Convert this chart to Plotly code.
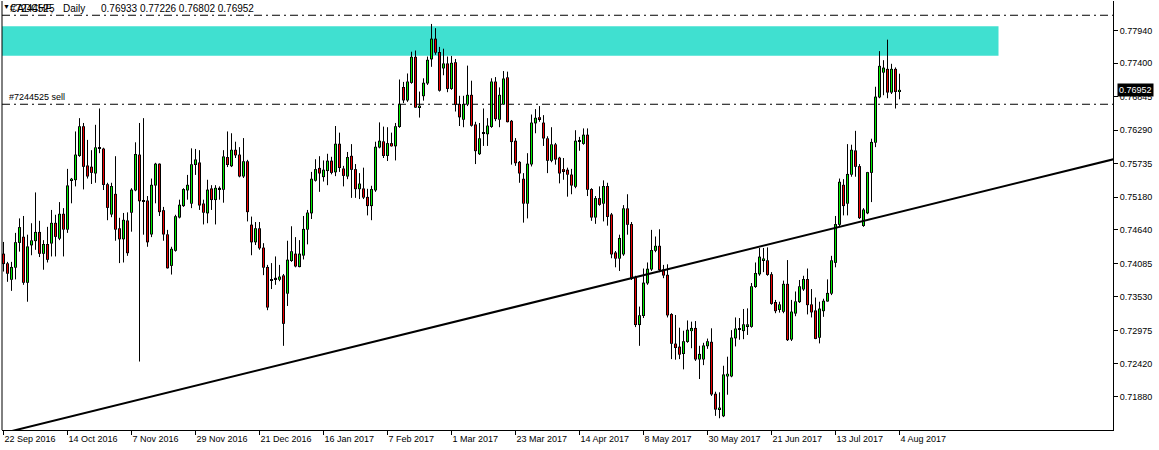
import pandas as pd
import plotly.graph_objects as go

# ---------------- data (CADCHF, Daily) ----------------
opens = [0.7424, 0.7408, 0.7382, 0.7402, 0.7443, 0.7452, 0.7377, 0.7439, 0.7446, 0.7460,
         0.7425, 0.7440, 0.7442, 0.7475, 0.7450, 0.7490, 0.7465, 0.7546, 0.7547, 0.7587,
         0.7635, 0.7570, 0.7568, 0.7558, 0.7600, 0.7598, 0.7539, 0.7490, 0.7523, 0.7466,
         0.7449, 0.7479, 0.7493, 0.7530, 0.7588, 0.7512, 0.7512, 0.7457, 0.7538, 0.7573,
         0.7496, 0.7456, 0.7405, 0.7430, 0.7485, 0.7504, 0.7530, 0.7508, 0.7572, 0.7575,
         0.7507, 0.7492, 0.7532, 0.7514, 0.7533, 0.7531, 0.7584, 0.7570, 0.7596, 0.7588,
         0.7553, 0.7577, 0.7472, 0.7444, 0.7466, 0.7434, 0.7402, 0.7382, 0.7384, 0.7382,
         0.7388, 0.7359, 0.7413, 0.7424, 0.7403, 0.7422, 0.7465, 0.7492, 0.7546, 0.7566,
         0.7552, 0.7562, 0.7578, 0.7560, 0.7606, 0.7565, 0.7553, 0.7586, 0.7564, 0.7532,
         0.7532, 0.7518, 0.7504, 0.7530, 0.7601, 0.7610, 0.7587, 0.7607, 0.7603, 0.7635,
         0.7700, 0.7679, 0.7708, 0.7750, 0.7667, 0.7686, 0.7707, 0.7747, 0.7780, 0.7758,
         0.7732, 0.7739, 0.7698, 0.7741, 0.7672, 0.7647, 0.7672, 0.7687, 0.7638, 0.7590,
         0.7624, 0.7623, 0.7635, 0.7709, 0.7647, 0.7672, 0.7716, 0.7644, 0.7611, 0.7576,
         0.7548, 0.7508, 0.7573, 0.7641, 0.7650, 0.7641, 0.7615, 0.7579, 0.7605, 0.7583,
         0.7564, 0.7563, 0.7555, 0.7536, 0.7611, 0.7607, 0.7621, 0.7531, 0.7485, 0.7516,
         0.7508, 0.7536, 0.7489, 0.7426, 0.7417, 0.7424, 0.7499, 0.7473, 0.7385, 0.7307,
         0.7322, 0.7376, 0.7399, 0.7430, 0.7437, 0.7398, 0.7389, 0.7324, 0.7275, 0.7270,
         0.7259, 0.7279, 0.7297, 0.7301, 0.7250, 0.7250, 0.7272, 0.7278, 0.7192, 0.7167,
         0.7156, 0.7222, 0.7222, 0.7285, 0.7300, 0.7297, 0.7305, 0.7304, 0.7370, 0.7391,
         0.7414, 0.7413, 0.7390, 0.7344, 0.7332, 0.7329, 0.7374, 0.7283, 0.7326, 0.7345,
         0.7366, 0.7382, 0.7340, 0.7330, 0.7286, 0.7330, 0.7346, 0.7359, 0.7410, 0.7473,
         0.7538, 0.7508, 0.7556, 0.7595, 0.7569, 0.7471, 0.7492, 0.7559, 0.7609, 0.7684,
         0.7725, 0.7730, 0.7692, 0.7730, 0.76933]
highs = [0.7444, 0.7411, 0.7411, 0.7459, 0.7483, 0.7487, 0.7456, 0.7475, 0.7526, 0.7479,
         0.7447, 0.7469, 0.7497, 0.7489, 0.7510, 0.7500, 0.7565, 0.7550, 0.7627, 0.7649,
         0.7641, 0.7613, 0.7596, 0.7638, 0.7665, 0.7600, 0.7542, 0.7542, 0.7586, 0.7484,
         0.7492, 0.7493, 0.7533, 0.7609, 0.7641, 0.7649, 0.7520, 0.7549, 0.7575, 0.7574,
         0.7502, 0.7464, 0.7436, 0.7489, 0.7514, 0.7533, 0.7555, 0.7599, 0.7598, 0.7596,
         0.7514, 0.7547, 0.7538, 0.7538, 0.7536, 0.7596, 0.7627, 0.7624, 0.7610, 0.7601,
         0.7616, 0.7580, 0.7486, 0.7477, 0.7477, 0.7442, 0.7406, 0.7409, 0.7420, 0.7406,
         0.7391, 0.7446, 0.7470, 0.7452, 0.7447, 0.7487, 0.7497, 0.7560, 0.7581, 0.7586,
         0.7579, 0.7590, 0.7585, 0.7636, 0.7625, 0.7570, 0.7593, 0.7606, 0.7573, 0.7558,
         0.7567, 0.7532, 0.7537, 0.7610, 0.7642, 0.7635, 0.7634, 0.7625, 0.7641, 0.7713,
         0.7709, 0.7723, 0.7759, 0.7761, 0.7693, 0.7715, 0.7751, 0.7805, 0.7798, 0.7767,
         0.7764, 0.7751, 0.7752, 0.7747, 0.7686, 0.7686, 0.7736, 0.7711, 0.7643, 0.7641,
         0.7665, 0.7649, 0.7715, 0.7717, 0.7700, 0.7727, 0.7726, 0.7646, 0.7616, 0.7578,
         0.7558, 0.7591, 0.7655, 0.7664, 0.7669, 0.7654, 0.7619, 0.7634, 0.7608, 0.7585,
         0.7583, 0.7567, 0.7565, 0.7629, 0.7618, 0.7632, 0.7632, 0.7533, 0.7520, 0.7536,
         0.7546, 0.7542, 0.7492, 0.7429, 0.7456, 0.7505, 0.7523, 0.7477, 0.7388, 0.7337,
         0.7400, 0.7410, 0.7464, 0.7453, 0.7465, 0.7406, 0.7407, 0.7326, 0.7323, 0.7302,
         0.7297, 0.7314, 0.7312, 0.7313, 0.7272, 0.7277, 0.7284, 0.7301, 0.7196, 0.7195,
         0.7239, 0.7254, 0.7298, 0.7319, 0.7318, 0.7333, 0.7334, 0.7376, 0.7410, 0.7434,
         0.7434, 0.7435, 0.7394, 0.7348, 0.7345, 0.7380, 0.7414, 0.7348, 0.7362, 0.7381,
         0.7388, 0.7400, 0.7366, 0.7352, 0.7345, 0.7350, 0.7382, 0.7421, 0.7487, 0.7549,
         0.7548, 0.7606, 0.7605, 0.7628, 0.7573, 0.7500, 0.7560, 0.7615, 0.7701, 0.7760,
         0.7745, 0.7779, 0.7739, 0.7733, 0.77226]
lows = [0.7395, 0.7378, 0.7363, 0.7382, 0.7428, 0.7373, 0.7345, 0.7422, 0.7431, 0.7419,
        0.7398, 0.7410, 0.7420, 0.7420, 0.7447, 0.7420, 0.7459, 0.7508, 0.7536, 0.7585,
        0.7531, 0.7549, 0.7540, 0.7542, 0.7591, 0.7530, 0.7480, 0.7485, 0.7446, 0.7409,
        0.7410, 0.7421, 0.7461, 0.7528, 0.7246, 0.7456, 0.7436, 0.7452, 0.7508, 0.7487,
        0.7446, 0.7400, 0.7390, 0.7428, 0.7483, 0.7502, 0.7514, 0.7500, 0.7555, 0.7497,
        0.7473, 0.7475, 0.7497, 0.7473, 0.7514, 0.7509, 0.7568, 0.7568, 0.7583, 0.7551,
        0.7550, 0.7478, 0.7422, 0.7439, 0.7431, 0.7389, 0.7331, 0.7366, 0.7373, 0.7379,
        0.7272, 0.7338, 0.7411, 0.7402, 0.7402, 0.7415, 0.7440, 0.7482, 0.7544, 0.7527,
        0.7544, 0.7538, 0.7556, 0.7553, 0.7560, 0.7536, 0.7548, 0.7517, 0.7517, 0.7515,
        0.7515, 0.7488, 0.7480, 0.7527, 0.7599, 0.7583, 0.7578, 0.7602, 0.7579, 0.7633,
        0.7674, 0.7676, 0.7706, 0.7666, 0.7650, 0.7678, 0.7704, 0.7734, 0.7754, 0.7693,
        0.7720, 0.7692, 0.7696, 0.7660, 0.7636, 0.7634, 0.7669, 0.7635, 0.7573, 0.7588,
        0.7603, 0.7603, 0.7633, 0.7644, 0.7634, 0.7671, 0.7642, 0.7572, 0.7570, 0.7542,
        0.7476, 0.7483, 0.7569, 0.7624, 0.7643, 0.7603, 0.7558, 0.7576, 0.7572, 0.7541,
        0.7547, 0.7519, 0.7523, 0.7533, 0.7595, 0.7605, 0.7520, 0.7479, 0.7474, 0.7504,
        0.7478, 0.7471, 0.7417, 0.7402, 0.7396, 0.7421, 0.7456, 0.7381, 0.7303, 0.7272,
        0.7318, 0.7373, 0.7396, 0.7427, 0.7394, 0.7384, 0.7319, 0.7250, 0.7249, 0.7250,
        0.7233, 0.7277, 0.7268, 0.7247, 0.7217, 0.7240, 0.7267, 0.7189, 0.7156, 0.7152,
        0.7154, 0.7191, 0.7220, 0.7271, 0.7282, 0.7283, 0.7290, 0.7302, 0.7368, 0.7388,
        0.7394, 0.7388, 0.7340, 0.7326, 0.7327, 0.7326, 0.7280, 0.7280, 0.7321, 0.7343,
        0.7363, 0.7324, 0.7319, 0.7283, 0.7276, 0.7320, 0.7345, 0.7356, 0.7402, 0.7470,
        0.7488, 0.7488, 0.7552, 0.7552, 0.7482, 0.7469, 0.7490, 0.7510, 0.7601, 0.7682,
        0.7687, 0.7682, 0.7689, 0.7665, 0.76802]
closes = [0.7408, 0.7392, 0.7402, 0.7443, 0.7468, 0.7377, 0.7436, 0.7446, 0.7460, 0.7425,
          0.7440, 0.7415, 0.7475, 0.7453, 0.7490, 0.7465, 0.7537, 0.7548, 0.7588, 0.7635,
          0.7569, 0.7553, 0.7559, 0.7600, 0.7599, 0.7539, 0.7501, 0.7536, 0.7465, 0.7449,
          0.7480, 0.7426, 0.7530, 0.7589, 0.7512, 0.7511, 0.7444, 0.7538, 0.7573, 0.7494,
          0.7457, 0.7401, 0.7432, 0.7486, 0.7505, 0.7531, 0.7538, 0.7572, 0.7580, 0.7505,
          0.7493, 0.7530, 0.7514, 0.7533, 0.7532, 0.7585, 0.7572, 0.7596, 0.7588, 0.7553,
          0.7577, 0.7494, 0.7444, 0.7466, 0.7434, 0.7402, 0.7336, 0.7381, 0.7383, 0.7386,
          0.7309, 0.7414, 0.7428, 0.7404, 0.7424, 0.7465, 0.7492, 0.7548, 0.7564, 0.7558,
          0.7563, 0.7578, 0.7559, 0.7606, 0.7567, 0.7554, 0.7584, 0.7564, 0.7532, 0.7540,
          0.7518, 0.7504, 0.7531, 0.7601, 0.7611, 0.7587, 0.7607, 0.7603, 0.7635, 0.7672,
          0.7679, 0.7709, 0.7750, 0.7667, 0.7669, 0.7707, 0.7745, 0.7780, 0.7758, 0.7695,
          0.7739, 0.7698, 0.7740, 0.7672, 0.7651, 0.7672, 0.7687, 0.7637, 0.7595, 0.7615,
          0.7625, 0.7636, 0.7709, 0.7648, 0.7687, 0.7714, 0.7643, 0.7610, 0.7575, 0.7558,
          0.7508, 0.7573, 0.7641, 0.7649, 0.7648, 0.7616, 0.7579, 0.7605, 0.7581, 0.7558,
          0.7562, 0.7556, 0.7538, 0.7611, 0.7612, 0.7621, 0.7531, 0.7485, 0.7516, 0.7506,
          0.7536, 0.7486, 0.7424, 0.7417, 0.7450, 0.7499, 0.7473, 0.7384, 0.7307, 0.7322,
          0.7376, 0.7399, 0.7430, 0.7437, 0.7398, 0.7389, 0.7323, 0.7276, 0.7269, 0.7258,
          0.7279, 0.7298, 0.7301, 0.7250, 0.7258, 0.7272, 0.7279, 0.7192, 0.7167, 0.7169,
          0.7224, 0.7225, 0.7285, 0.7300, 0.7299, 0.7307, 0.7307, 0.7370, 0.7392, 0.7419,
          0.7416, 0.7390, 0.7342, 0.7330, 0.7340, 0.7374, 0.7282, 0.7328, 0.7345, 0.7370,
          0.7382, 0.7340, 0.7328, 0.7284, 0.7333, 0.7346, 0.7359, 0.7413, 0.7473, 0.7543,
          0.7504, 0.7556, 0.7596, 0.7569, 0.7484, 0.7497, 0.7559, 0.7609, 0.7684, 0.7735,
          0.7732, 0.7692, 0.7730, 0.7693, 0.76952]

# trading days shown (broker skipped 26 Dec 2016 and 2 Jan 2017)
first_day = "2016-09-22"
last_day = "2017-08-04"
skipped_days = ["2016-12-26", "2017-01-02"]

x_tick_labels = ["22 Sep 2016", "14 Oct 2016", "7 Nov 2016", "29 Nov 2016", "21 Dec 2016",
                 "16 Jan 2017", "7 Feb 2017", "1 Mar 2017", "23 Mar 2017", "14 Apr 2017",
                 "8 May 2017", "30 May 2017", "21 Jun 2017", "13 Jul 2017", "4 Aug 2017"]
y_tick_values = [0.77940, 0.77400, 0.76845, 0.76290, 0.75735, 0.75180, 0.74640,
                 0.74085, 0.73530, 0.72975, 0.72420, 0.71880, 0.71325]

symbol_name = "CADCHF,"
timeframe = "Daily"
order_label = "#7244525"
last_bar = dict(o=0.76933, h=0.77226, l=0.76802, c=0.76952)

# chart objects
zone_low, zone_high = 0.77525, 0.78012       # turquoise rectangle
zone_end_bar = 248.75                        # rectangle right edge (bar index)
order_sl_price = 0.78194                     # upper dash-dot order line
order_open_price = 0.76720                   # "#7244525 sell" line
trend_bars = [0, 277.5]
trend_prices = [0.71275, 0.75809]

view_bars = [-0.375, 277.375]
view_prices = [0.71326, 0.78430]

BULL = "#00EE00"
BEAR = "#EE0000"

# ---------------- build ----------------
days = pd.bdate_range(first_day, last_day)
days = days[~days.isin(pd.to_datetime(skipped_days))]
day_strings = [f"{d.day} {d.strftime('%b %Y')}" for d in days]
bar_index = list(range(len(days)))
x_tick_vals = [day_strings.index(s) for s in x_tick_labels]

edge = 0.00012                       # outline thickness of a candle body, in price units
body_lo = [min(o, c) for o, c in zip(opens, closes)]
body_hi = [max(o, c) for o, c in zip(opens, closes)]
outer_base = [lo - edge / 2 for lo in body_lo]
outer_h = [hi - lo + edge for hi, lo in zip(body_hi, body_lo)]
inner_base = [lo + edge / 2 for lo in body_lo]
inner_h = [max(hi - lo - edge, 0) for hi, lo in zip(body_hi, body_lo)]
body_col = [BULL if c >= o else BEAR for o, c in zip(opens, closes)]

wick_x, wick_y = [], []
for i, h, l, bh, bl in zip(bar_index, highs, lows, body_hi, body_lo):
    wick_x += [i, i, None, i, i, None]
    wick_y += [h, bh, None, bl, l, None]

FONT = "Liberation Sans, Arial, sans-serif"

fig = go.Figure()
# black outline of each body (3 px), then the coloured core (1 px)
fig.add_trace(go.Bar(
    x=bar_index, y=outer_h, base=outer_base, width=0.75,
    marker=dict(color="black", line=dict(width=0)),
    showlegend=False, hoverinfo="skip"))
fig.add_trace(go.Bar(
    x=bar_index, y=inner_h, base=inner_base, width=0.25,
    marker=dict(color=body_col, line=dict(width=0)),
    showlegend=False, hoverinfo="skip"))
fig.add_trace(go.Scatter(
    x=wick_x, y=wick_y, mode="lines", line=dict(color="black", width=1),
    showlegend=False, hoverinfo="skip"))
fig.add_trace(go.Scatter(
    x=trend_bars, y=trend_prices, mode="lines",
    line=dict(color="black", width=2), showlegend=False, hoverinfo="skip"))

shapes = [
    dict(type="rect", xref="x", yref="y", x0=view_bars[0], x1=zone_end_bar,
         y0=zone_low, y1=zone_high, fillcolor="#40E0D0", line=dict(width=0), layer="below"),
    dict(type="line", xref="paper", yref="y", x0=0, x1=1, y0=order_sl_price, y1=order_sl_price,
         line=dict(color="black", width=1, dash="8px,4px,2px,4px"), layer="below"),
    dict(type="line", xref="paper", yref="y", x0=0, x1=1, y0=order_open_price, y1=order_open_price,
         line=dict(color="black", width=1, dash="8px,4px,2px,4px"), layer="below"),
    dict(type="line", xref="paper", yref="paper", x0=0, x1=0, y0=0, y1=1,
         line=dict(color="black", width=1)),
]

price_fmt = "{:.5f}"
ohlc_text = " ".join(price_fmt.format(v) for v in
                     (last_bar["o"], last_bar["h"], last_bar["l"], last_bar["c"]))


def top_text(txt, shift, size=10):
    return dict(xref="paper", yref="paper", x=0, y=1, xanchor="left", yanchor="top",
                xshift=shift, yshift=0, text=txt, showarrow=False,
                font=dict(family=FONT, size=size, color="black"))


annotations = [
    top_text("▼", -1, 7),
    top_text(symbol_name, 6),
    top_text(order_label, 6),
    top_text(timeframe, 59),
    top_text(ohlc_text, 97),
    dict(xref="paper", yref="y", x=0, y=order_open_price, xanchor="left", yanchor="bottom",
         xshift=5, yshift=0, text=order_label + " sell", showarrow=False,
         font=dict(family=FONT, size=9, color="black")),
    dict(xref="paper", yref="y", x=1, y=last_bar["c"], xanchor="left", yanchor="middle",
         xshift=4, text=price_fmt.format(last_bar["c"]), showarrow=False, bgcolor="black",
         borderpad=1, font=dict(family=FONT, size=9, color="white")),
]

fig.update_layout(
    width=1159, height=450,
    margin=dict(l=2, r=46, t=1, b=20),
    paper_bgcolor="white", plot_bgcolor="white",
    showlegend=False, barmode="overlay",
    shapes=shapes, annotations=annotations,
    xaxis=dict(range=view_bars, tickvals=x_tick_vals, ticktext=x_tick_labels,
               ticks="outside", ticklen=4, tickcolor="black", showline=True,
               linecolor="black", linewidth=1, showgrid=False, zeroline=False,
               ticklabelposition="outside right",
               tickfont=dict(family=FONT, size=9, color="black")),
    yaxis=dict(range=view_prices, side="right", tickvals=y_tick_values,
               ticktext=[price_fmt.format(v) for v in y_tick_values],
               ticks="outside", ticklen=4, tickcolor="black", showline=True,
               linecolor="black", linewidth=1, showgrid=False, zeroline=False,
               tickfont=dict(family=FONT, size=9, color="black")),
)

fig.write_html("out.html", config={"displayModeBar": False},
               post_script="document.body.style.margin='0px';")
